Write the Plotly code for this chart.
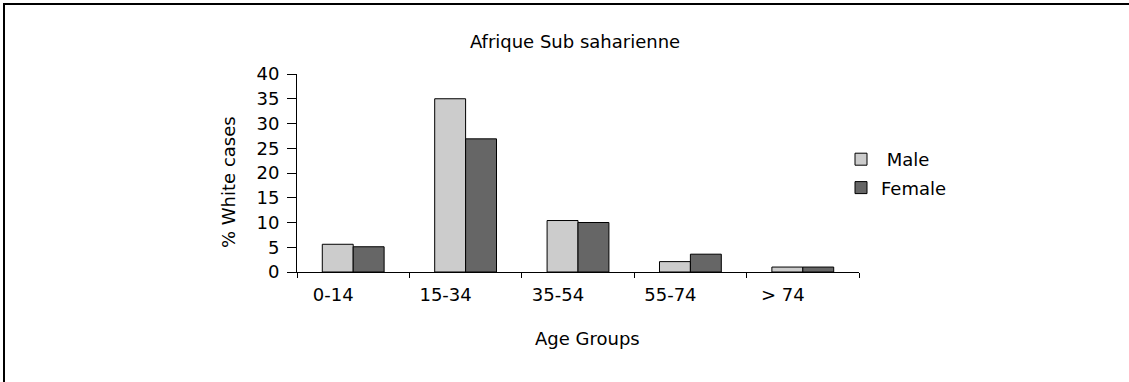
import plotly.graph_objects as go

categories = ["0-14", "15-34", "35-54", "55-74", "> 74"]
male = [5.6, 35.0, 10.4, 2.1, 1.0]
female = [5.1, 26.9, 10.0, 3.6, 1.0]

W, H = 1129, 382
L, R, T, B = 297, 1129 - 859, 74, 382 - 272
pw, ph = W - L - R, H - T - B

font = "DejaVu Sans, Liberation Sans, Arial, sans-serif"
FS = 18

fig = go.Figure()
fig.add_trace(go.Bar(x=categories, y=male, name=" Male", legendgroup="m",
                     marker=dict(color="#cccccc", line=dict(color="black", width=1))))
fig.add_trace(go.Bar(x=categories, y=female, name="Female", legendgroup="f",
                     marker=dict(color="#666666", line=dict(color="black", width=1))))

fig.update_layout(
    width=W, height=H,
    margin=dict(l=L, r=R, t=T, b=B),
    paper_bgcolor="white", plot_bgcolor="white",
    font=dict(family=font, size=FS, color="black"),
    barmode="group", bargap=0.45, bargroupgap=0,
    title=dict(text="Afrique Sub saharienne", x=575 / W, xanchor="center",
               y=1 - 42 / H, yanchor="middle", font=dict(size=FS)),
    showlegend=True,
    legend=dict(x=(841 - L) / pw, y=1 - (141 - T) / ph, xanchor="left", yanchor="top",
                tracegroupgap=2, font=dict(size=FS), itemwidth=30,
                bgcolor="rgba(0,0,0,0)"),
    xaxis=dict(showline=True, linecolor="black", linewidth=1, ticks="outside",
               tickson="boundaries", ticklen=5, tickcolor="black",
               ticklabelshift=-20, ticklabelstandoff=6,
               showgrid=False, zeroline=False),
    yaxis=dict(range=[0, 40], dtick=5, showline=True, linecolor="black", linewidth=1,
               ticks="outside", ticklen=9, tickcolor="black", showgrid=False,
               ticklabelstandoff=4, zeroline=False),
    annotations=[
        dict(text="Age Groups", xref="paper", yref="paper",
             x=(587 - L) / pw, y=-(338 - 272) / ph, xanchor="center", yanchor="middle",
             showarrow=False, font=dict(size=FS)),
        dict(text="% White cases", xref="paper", yref="paper", textangle=-90,
             x=(228 - L) / pw, y=(272 - 182) / ph, xanchor="center", yanchor="middle",
             showarrow=False, font=dict(size=FS)),
    ],
)

fig.add_shape(type="rect", xref="paper", yref="paper",
              x0=(4 - L) / pw, x1=(1140 - L) / pw,
              y0=1 + (T - 400) / ph, y1=1 + (T - 4) / ph,
              line=dict(color="black", width=2), fillcolor="rgba(0,0,0,0)", layer="below")

fig.write_html("out.html")
